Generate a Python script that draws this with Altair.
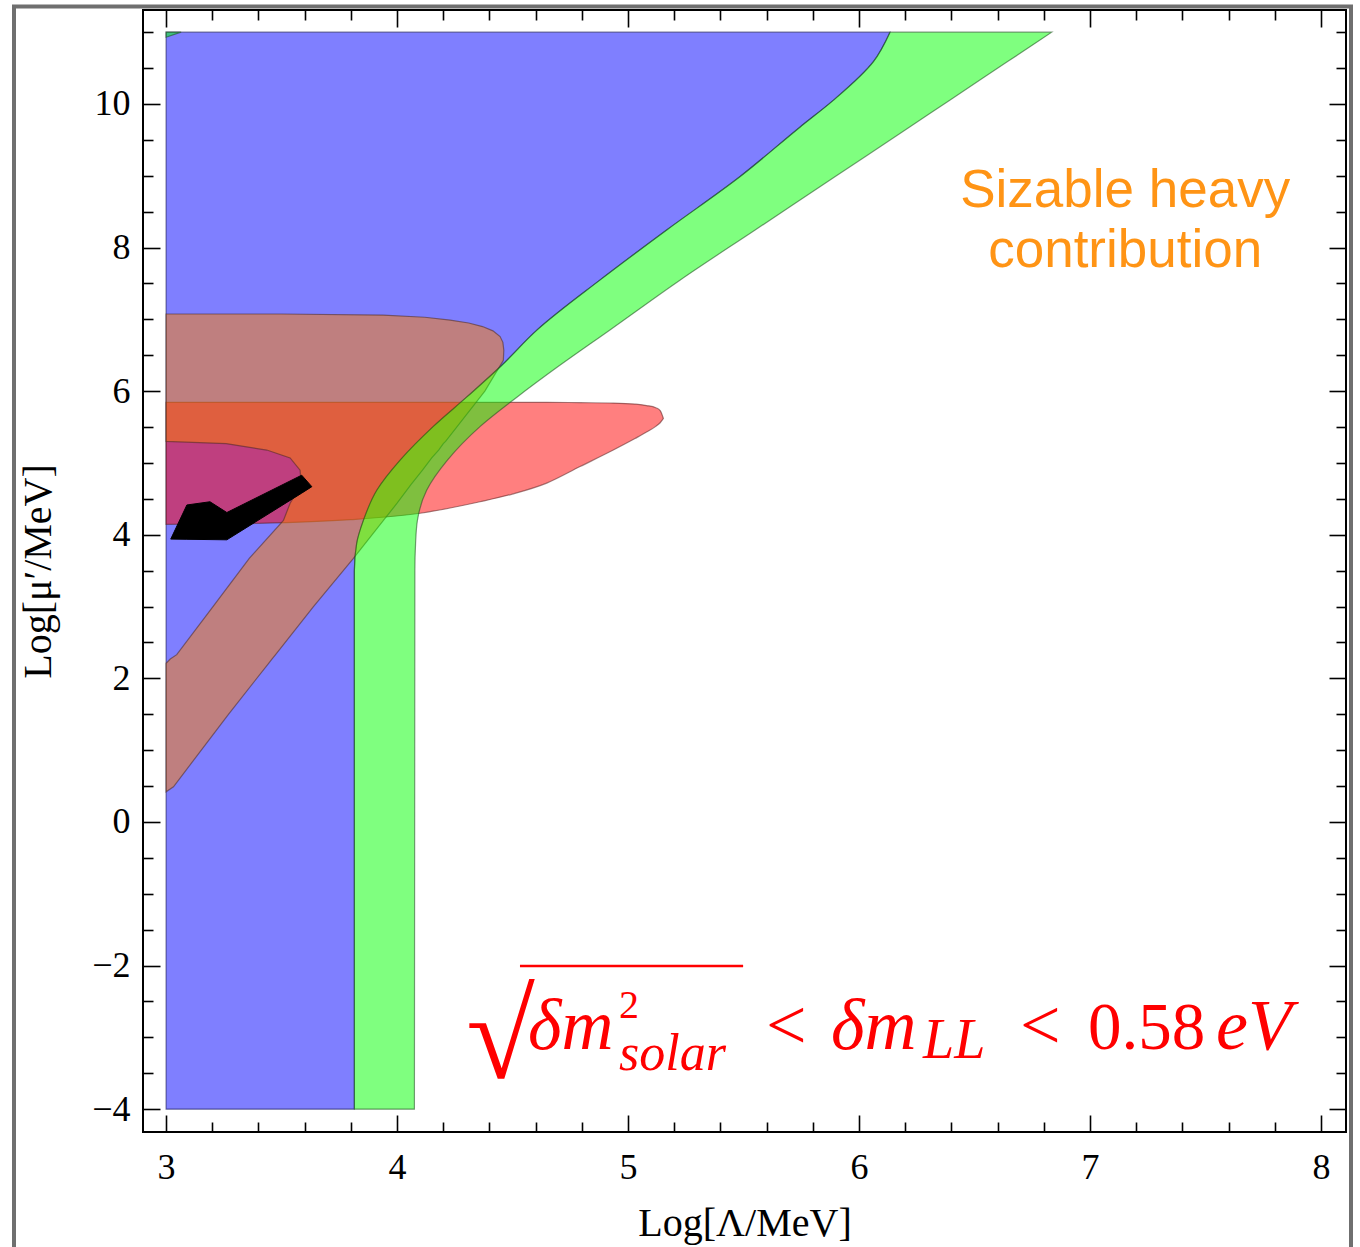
import altair as alt
import pandas as pd

# ---------------- data ----------------
X_TICKS = [3.0, 3.2, 3.4, 3.6, 3.8, 4.0, 4.2, 4.4, 4.6, 4.8, 5.0, 5.2, 5.4, 5.6, 5.8,
           6.0, 6.2, 6.4, 6.6, 6.8, 7.0, 7.2, 7.4, 7.6, 7.8, 8.0]
Y_TICKS = [-4.0, -3.5, -3.0, -2.5, -2.0, -1.5, -1.0, -0.5, 0.0, 0.5, 1.0, 1.5, 2.0, 2.5,
           3.0, 3.5, 4.0, 4.5, 5.0, 5.5, 6.0, 6.5, 7.0, 7.5, 8.0, 8.5, 9.0, 9.5, 10.0,
           10.5, 11.0]

# blue region: for each y, x from BLUE_XL to BLUE_XR
BLUE_Y = [-4.0, 3.5, 3.88, 4.2, 4.62, 5.04, 5.51, 5.92, 6.35, 6.85, 7.55, 8.245, 8.99,
          9.68, 10.05, 10.59, 11.0]
BLUE_XL = [3.0, 3.0, 3.0, 3.0, 3.0, 3.0, 3.0, 3.0, 3.0, 3.0, 3.0, 3.0, 3.0, 3.0, 3.0, 3.0, 3.0]
BLUE_XR = [3.815, 3.815, 3.825, 3.854, 3.912, 4.013, 4.157, 4.302, 4.45, 4.605, 4.879,
           5.167, 5.485, 5.745, 5.888, 6.062, 6.134]

# green band
GREEN_Y = [-4.0, 3.5, 3.88, 4.2, 4.62, 5.04, 5.51, 5.92, 6.35, 6.85, 7.55, 8.245, 8.99,
           9.68, 10.05, 10.59, 11.0]
GREEN_XL = [3.815, 3.815, 3.825, 3.854, 3.912, 4.013, 4.157, 4.302, 4.45, 4.605, 4.879,
            5.167, 5.485, 5.745, 5.888, 6.062, 6.134]
GREEN_XR = [4.075, 4.077, 4.08, 4.088, 4.128, 4.218, 4.36, 4.52, 4.70, 4.92, 5.226, 5.55,
            5.897, 6.219, 6.391, 6.643, 6.834]
# small green sliver in the top-left corner
GREEN2_Y = [10.93, 11.0]
GREEN2_XL = [3.0, 3.0]
GREEN2_XR = [3.0, 3.065]

# red region: for each x, y from RED_YB to RED_YT
RED_X = [3.0, 3.4, 3.8, 4.1, 4.359, 4.503, 4.648, 4.792, 4.936, 5.03, 5.08, 5.12, 5.139, 5.153]
RED_YB = [4.146, 4.16, 4.21, 4.30, 4.46, 4.57, 4.72, 4.95, 5.18, 5.34, 5.43, 5.51, 5.56, 5.62]
RED_YT = [5.845, 5.845, 5.845, 5.845, 5.845, 5.845, 5.845, 5.84, 5.835, 5.82, 5.80, 5.77, 5.73, 5.62]

# brown band
BROWN_Y = [0.42, 0.49, 1.5, 2.21, 2.27, 2.33, 3.0, 3.67, 4.2, 4.44, 4.7, 4.9, 5.07, 5.18,
           5.27, 5.30, 6.0, 6.43, 6.57, 6.68, 6.76, 6.84, 6.90, 6.95, 6.99, 7.03, 7.06, 7.075]
BROWN_XL = [3.0, 3.0, 3.0, 3.0, 3.018, 3.046, 3.203, 3.36, 3.508, 3.537, 3.585, 3.58,
            3.537, 3.436, 3.26, 3.0, 3.0, 3.0, 3.0, 3.0, 3.0, 3.0, 3.0, 3.0, 3.0, 3.0,
            3.0, 3.0]
BROWN_XR = [3.0, 3.032, 3.27, 3.444, 3.459, 3.474, 3.638, 3.811, 3.941, 4.0, 4.06, 4.11,
            4.15, 4.18, 4.20, 4.21, 4.38, 4.46, 4.462, 4.458, 4.446, 4.415, 4.37, 4.31,
            4.23, 4.12, 3.94, 3.5]

# black polygon
BLACK_X = [3.020, 3.090, 3.190, 3.263, 3.587, 3.631]
BLACK_YT = [3.94, 4.415, 4.46, 4.31, 4.83, 4.67]
BLACK_YB = [3.94, 3.937, 3.933, 3.93, 4.58, 4.67]

# ---------------- annotations (text + placement) ----------------
NOTE_TEXT = "Sizable heavy\ncontribution"
NOTE_POS = (7.152, 8.565)

# formula pieces: text, x, y, font size, italic?
FORMULA = [
    ("√", 4.299, -3.565, 125, False),
    ("δm", 4.567, -3.162, 72, True),
    ("2", 4.961, -2.730, 40, False),
    ("solar", 4.961, -3.454, 52, True),
    ("<", 5.597, -3.162, 72, False),
    ("δm", 5.879, -3.162, 72, True),
    ("LL", 6.277, -3.287, 56, True),
    ("<", 6.697, -3.162, 72, False),
    ("0.58", 6.991, -3.162, 67, False),
    ("eV", 7.545, -3.162, 72, True),
]
OVERLINE = (4.532, 5.498, -2.006)

# ---------------- chart ----------------
SERIF = "Liberation Serif"
xs = alt.Scale(domain=[2.9, 8.108], nice=False, zero=False)
ys = alt.Scale(domain=[-4.318, 11.309], nice=False, zero=False)

common_axis = dict(domain=False, grid=False, tickColor="black", tickWidth=1.6,
                   labelOverlap=False, labelFlush=False, tickCount=500, tickMinStep=0.1)

ax_bottom = alt.Axis(orient="bottom", values=X_TICKS, format="d",
                     labelExpr="datum.value % 1 == 0 ? datum.label : ''",
                     tickSize={"expr": "datum.value % 1 == 0 ? -17 : -10"},
                     labelFont=SERIF, labelFontSize=36, labelColor="black",
                     labelPadding=35, title="Log[Λ/MeV]", titleFont=SERIF,
                     titleFontSize=40, titleFontWeight="normal", titleColor="black",
                     titleY=103, titleBaseline="alphabetic", **common_axis)
ax_left = alt.Axis(orient="left", values=Y_TICKS, format="d",
                   labelExpr="datum.value % 2 == 0 ? datum.label : ''",
                   tickSize={"expr": "datum.value % 2 == 0 ? -17 : -10"},
                   labelFont=SERIF, labelFontSize=36, labelColor="black",
                   labelPadding=30, title="Log[μ′/MeV]", titleFont=SERIF,
                   titleFontSize=40, titleFontWeight="normal", titleColor="black",
                   titleX=-93, titleAngle=270, titleBaseline="alphabetic", **common_axis)
ax_top = alt.Axis(orient="top", values=X_TICKS, labels=False, title=None,
                  tickSize={"expr": "datum.value % 1 == 0 ? -17 : -10"}, **common_axis)
ax_right = alt.Axis(orient="right", values=Y_TICKS, labels=False, title=None,
                    tickSize={"expr": "datum.value % 2 == 0 ? -17 : -10"}, **common_axis)

edge = dict(strokeWidth=1.2, strokeOpacity=0.55)

blue_df = pd.DataFrame({"y": BLUE_Y, "xl": BLUE_XL, "xr": BLUE_XR})
blue = alt.Chart(blue_df).mark_area(orient="horizontal", fill="#0000ff", fillOpacity=0.5,
                                    stroke="#10104a", interpolate="monotone", **edge).encode(
    y=alt.Y("y:Q", scale=ys, axis=ax_left),
    x=alt.X("xl:Q", scale=xs, axis=None),
    x2="xr:Q",
)

red_df = pd.DataFrame({"x": RED_X, "yb": RED_YB, "yt": RED_YT})
red = alt.Chart(red_df).mark_area(fill="#ff0000", fillOpacity=0.5, interpolate="monotone",
                                  stroke="#5a2020", **edge).encode(
    x=alt.X("x:Q", scale=xs, axis=ax_bottom),
    y=alt.Y("yb:Q", scale=ys, axis=None),
    y2="yt:Q",
)

brown_df = pd.DataFrame({"y": BROWN_Y, "xl": BROWN_XL, "xr": BROWN_XR})
brown = alt.Chart(brown_df).mark_area(orient="horizontal", fill="#ff8000", fillOpacity=0.5,
                                      stroke="#4a2a20", **edge).encode(
    y=alt.Y("y:Q", scale=ys, axis=None),
    x=alt.X("xl:Q", scale=xs, axis=None),
    x2="xr:Q",
)

green_df = pd.concat([
    pd.DataFrame({"y": GREEN_Y, "xl": GREEN_XL, "xr": GREEN_XR, "piece": "band"}),
    pd.DataFrame({"y": GREEN2_Y, "xl": GREEN2_XL, "xr": GREEN2_XR, "piece": "corner"}),
])
green = alt.Chart(green_df).mark_area(orient="horizontal", fill="#00ff00", fillOpacity=0.5,
                                      stroke="#1f4a1f", interpolate="monotone", **edge).encode(
    y=alt.Y("y:Q", scale=ys, axis=None),
    x=alt.X("xl:Q", scale=xs, axis=None),
    x2="xr:Q",
    detail="piece:N",
)

black_df = pd.DataFrame({"x": BLACK_X, "yb": BLACK_YB, "yt": BLACK_YT})
black = alt.Chart(black_df).mark_area(fill="black", stroke="black", strokeWidth=1).encode(
    x=alt.X("x:Q", scale=xs, axis=None),
    y=alt.Y("yb:Q", scale=ys, axis=None),
    y2="yt:Q",
)

note_df = pd.DataFrame({"x": [NOTE_POS[0]], "y": [NOTE_POS[1]], "t": [NOTE_TEXT]})
note = alt.Chart(note_df).mark_text(align="center", baseline="alphabetic",
                                    font="Liberation Sans", fontSize=53, color="#ff9415",
                                    lineBreak="\n", lineHeight=60).encode(
    x=alt.X("x:Q", scale=xs, axis=ax_top),
    y=alt.Y("y:Q", scale=ys, axis=ax_right),
    text="t:N",
)

f_df = pd.DataFrame(FORMULA, columns=["t", "x", "y", "s", "it"])
f_up = alt.Chart(f_df[~f_df["it"]]).mark_text(align="left", baseline="alphabetic",
                                              font=SERIF, color="red").encode(
    x=alt.X("x:Q", scale=xs, axis=None),
    y=alt.Y("y:Q", scale=ys, axis=None),
    text="t:N",
    size=alt.Size("s:Q", scale=None),
)
f_it = alt.Chart(f_df[f_df["it"]]).mark_text(align="left", baseline="alphabetic",
                                             font=SERIF, fontStyle="italic",
                                             color="red").encode(
    x=alt.X("x:Q", scale=xs, axis=None),
    y=alt.Y("y:Q", scale=ys, axis=None),
    text="t:N",
    size=alt.Size("s:Q", scale=None),
)
ol_df = pd.DataFrame({"x": [OVERLINE[0]], "x2": [OVERLINE[1]], "y": [OVERLINE[2]]})
overline = alt.Chart(ol_df).mark_rule(color="red", strokeWidth=2.5).encode(
    x=alt.X("x:Q", scale=xs, axis=None),
    x2="x2:Q",
    y=alt.Y("y:Q", scale=ys, axis=None),
)

border = alt.Chart(alt.Data(values=[{"k": 1}])).mark_rect(
    filled=False, stroke="#6f6f6f", strokeWidth=4).encode(
    x=alt.value(-129), x2=alt.value(1208), y=alt.value(-3.5), y2=alt.value(1300))

chart = alt.layer(blue, red, brown, green, black, note, f_up, f_it, overline, border).resolve_axis(
    x="independent", y="independent"
).properties(
    width=1203, height=1122,
    padding={"left": 143, "top": 10, "right": 14, "bottom": 115},
    autosize=alt.AutoSizeParams(type="none"),
    background="white",
).configure_view(stroke="black", strokeWidth=2)

chart.save("out.html", embed_options={"renderer": "svg", "actions": False})
